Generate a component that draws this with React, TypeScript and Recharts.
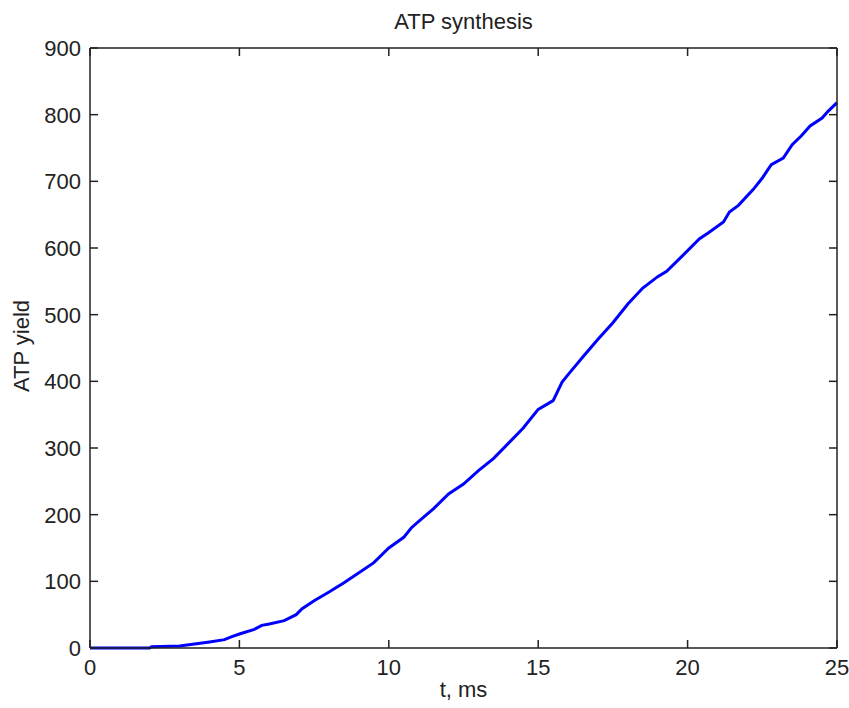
import { LineChart, Line, XAxis, YAxis } from "recharts";

// ATP yield (t in ms)
const tMs = [
  0, 1, 2, 2.06, 3, 3.5, 4, 4.5, 4.75, 5, 5.5, 5.75, 6, 6.5, 6.9, 7.1, 7.5, 8, 8.5, 9,
  9.5, 10, 10.5, 10.75, 11, 11.5, 12, 12.5, 13, 13.5, 14, 14.5, 15, 15.5, 15.8, 16,
  16.5, 17, 17.5, 18, 18.5, 19, 19.3, 19.8, 20.4, 20.7, 21.2, 21.4, 21.7, 22.2, 22.5,
  22.8, 23.2, 23.5, 23.8, 24.1, 24.5, 24.7, 25,
];
const atpYield = [
  0, 0, 0, 2, 3, 6, 9, 12.5, 17, 21, 28, 34, 36, 41, 50, 59, 71, 84, 98, 113,
  128, 150, 166, 180, 190, 209, 231, 246, 266, 284, 307, 330, 358, 371, 399, 410,
  437, 463, 488, 516, 540, 557, 565, 587, 614, 623, 639, 654, 664, 688, 705,
  725, 735, 755, 768, 783, 795, 805, 818,
];
const xTicks = [0, 5, 10, 15, 20, 25];
const yTicks = [0, 100, 200, 300, 400, 500, 600, 700, 800, 900];

const data = tMs.map((t, i) => ({ t, atp: atpYield[i] }));

const FONT = "'Liberation Sans', Arial, sans-serif";
const INK = "#222";
const TICK = 8;
// recharts puts the tick label tickSize + tickMargin away from the axis line
const OFF = 12;

function BottomTick({ x, y, payload }: any) {
  const ay = y - OFF;
  return (
    <g>
      <line x1={x} y1={ay} x2={x} y2={ay - TICK} stroke={INK} strokeWidth={1.5} />
      <text x={x} y={ay + 27} textAnchor="middle" fontSize={22} fontFamily={FONT} fill={INK}>
        {payload.value}
      </text>
    </g>
  );
}

function TopTick({ x, y }: any) {
  const ay = y + OFF;
  return <line x1={x} y1={ay} x2={x} y2={ay + TICK} stroke={INK} strokeWidth={1.5} />;
}

function LeftTick({ x, y, payload }: any) {
  const ax = x + OFF;
  return (
    <g>
      <line x1={ax} y1={y} x2={ax + TICK} y2={y} stroke={INK} strokeWidth={1.5} />
      <text x={ax - 9} y={y + 8} textAnchor="end" fontSize={22} fontFamily={FONT} fill={INK}>
        {payload.value}
      </text>
    </g>
  );
}

function RightTick({ x, y }: any) {
  const ax = x - OFF;
  return <line x1={ax} y1={y} x2={ax - TICK} y2={y} stroke={INK} strokeWidth={1.5} />;
}

const axisStroke = { stroke: INK, strokeWidth: 1.5 };

export default function App() {
  return (
    <div
      style={{
        position: "absolute",
        left: 0,
        top: 0,
        width: 849,
        height: 708,
        background: "#fff",
        fontFamily: FONT,
        color: INK,
      }}
    >
      <div
        style={{
          position: "absolute",
          left: 90,
          width: 747,
          top: 9,
          textAlign: "center",
          fontSize: 22,
          lineHeight: "25px",
        }}
      >
        ATP synthesis
      </div>
      <div
        style={{
          position: "absolute",
          left: 90,
          width: 747,
          top: 677,
          textAlign: "center",
          fontSize: 22,
          lineHeight: "25px",
        }}
      >
        t, ms
      </div>
      <div
        style={{
          position: "absolute",
          left: 21,
          top: 346,
          fontSize: 22,
          lineHeight: "25px",
          whiteSpace: "nowrap",
          transform: "translate(-50%, -50%) rotate(-90deg)",
        }}
      >
        ATP yield
      </div>
      <LineChart
        width={849}
        height={708}
        data={data}
        margin={{ top: 47, right: 11, bottom: 0, left: 0 }}
      >
        <XAxis
          xAxisId="bottom"
          dataKey="t"
          type="number"
          domain={[0, 25]}
          ticks={xTicks}
          height={60}
          tickSize={8}
          tickMargin={4}
          tickLine={false}
          tick={<BottomTick />}
          axisLine={axisStroke}
          interval={0}
        />
        <XAxis
          xAxisId="top"
          orientation="top"
          dataKey="t"
          type="number"
          domain={[0, 25]}
          ticks={xTicks}
          height={1}
          tickSize={8}
          tickMargin={4}
          tickLine={false}
          tick={<TopTick />}
          axisLine={axisStroke}
          interval={0}
        />
        <YAxis
          yAxisId="left"
          type="number"
          domain={[0, 900]}
          ticks={yTicks}
          width={90}
          tickSize={8}
          tickMargin={4}
          tickLine={false}
          tick={<LeftTick />}
          axisLine={axisStroke}
          interval={0}
        />
        <YAxis
          yAxisId="right"
          orientation="right"
          type="number"
          domain={[0, 900]}
          ticks={yTicks}
          width={1}
          tickSize={8}
          tickMargin={4}
          tickLine={false}
          tick={<RightTick />}
          axisLine={axisStroke}
          interval={0}
        />
        {/* invisible copy so the top/right box axes get a series */}
        <Line
          xAxisId="top"
          yAxisId="right"
          dataKey="atp"
          stroke="none"
          dot={false}
          activeDot={false}
          legendType="none"
          isAnimationActive={false}
        />
        <Line
          xAxisId="bottom"
          yAxisId="left"
          dataKey="atp"
          type="linear"
          stroke="#0000ff"
          strokeWidth={3}
          dot={false}
          isAnimationActive={false}
        />
      </LineChart>
    </div>
  );
}
